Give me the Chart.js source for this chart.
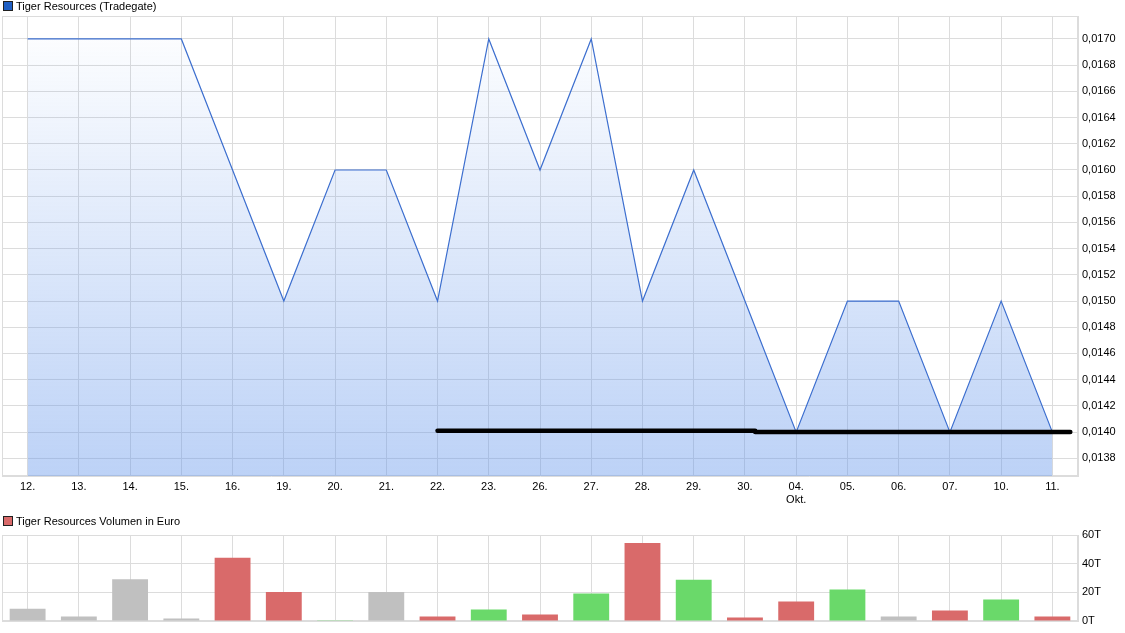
<!DOCTYPE html>
<html>
<head>
<meta charset="utf-8">
<script src="https://cdn.jsdelivr.net/npm/chart.js@4/dist/chart.umd.min.js"></script>
<style>
html, body { margin: 0; padding: 0; background: #ffffff; }
#priceBox { position: absolute; left: 0; top: 0; width: 1125px; height: 508px; }
#volBox { position: absolute; left: 0; top: 508px; width: 1125px; height: 125px; }
</style>
</head>
<body>
<div id="priceBox"><canvas id="priceChart"></canvas></div>
<div id="volBox"><canvas id="volChart"></canvas></div>
<script>
// trading days (Sept / Oct)
const days = ['12.', '13.', '14.', '15.', '16.', '19.', '20.', '21.', '22.', '23.', '26.',
   '27.', '28.', '29.', '30.', ['04.', 'Okt.'], '05.', '06.', '07.', '10.', '11.'];

// closing price in EUR
const prices = [0.0170, 0.0170, 0.0170, 0.0170, 0.0160, 0.0150, 0.0160, 0.0160, 0.0150, 0.0170, 0.0160,
   0.0170, 0.0150, 0.0160, 0.0150, 0.0140, 0.0150, 0.0150, 0.0140, 0.0150, 0.0140];

// volume in thousand euro, and day direction (u = up, d = down, n = unchanged)
const volumes = [8.6, 3.2, 29.1, 1.8, 44.1, 20.2, 0.5, 20.2, 3.2, 8.0, 4.5,
   19.1, 54.4, 28.8, 2.5, 13.6, 21.9, 3.2, 7.4, 15.0, 3.2];
const volDirection = ['n', 'n', 'n', 'n', 'd', 'd', 'u', 'n', 'd', 'u', 'd',
   'u', 'd', 'u', 'd', 'd', 'u', 'n', 'd', 'u', 'd'];

// support lines (x = day index)
const supportA = [{ x: 8, y: 0.01401 }, { x: 14.2, y: 0.01401 }];
const supportB = [{ x: 14.2, y: 0.01400 }, { x: 20.35, y: 0.01400 }];

const priceTicks = [0.0138, 0.0140, 0.0142, 0.0144, 0.0146, 0.0148, 0.0150, 0.0152, 0.0154,
   0.0156, 0.0158, 0.0160, 0.0162, 0.0164, 0.0166, 0.0168, 0.0170];
const volTicks = [0, 20, 40, 60];

const dirColors = { u: '#6ad96a', d: '#d96a6a', n: '#c0c0c0' };
const gridColor = '#dcdcdc';

Chart.defaults.font = { family: "'Liberation Sans', Arial, sans-serif", size: 11 };
Chart.defaults.color = '#000000';

// frame round the plot area + little square legend in the top left corner
const FramePlugin = {
   id: 'frame',
   beforeDatasetsDraw: (chart) => {
      const a = chart.chartArea;
      const ctx = chart.ctx;
      ctx.save();
      ctx.strokeStyle = gridColor;
      ctx.lineWidth = 1;
      ctx.strokeRect(Math.round(a.left) + 0.5, Math.round(a.top) + 0.5,
         Math.round(a.right - a.left) - 1, Math.round(a.bottom - a.top) - 1);
      ctx.restore();
   },
   afterDraw: (chart, args, opts) => {
      if (!opts.text) {
         return;
      }
      const ctx = chart.ctx;
      ctx.save();
      ctx.fillStyle = opts.color;
      ctx.fillRect(3.5, opts.y - 4.5, 9, 9);
      ctx.strokeStyle = '#202020';
      ctx.lineWidth = 1;
      ctx.strokeRect(3.5, opts.y - 4.5, 9, 9);
      ctx.fillStyle = '#000000';
      ctx.font = "11px 'Liberation Sans', Arial, sans-serif";
      ctx.textBaseline = 'middle';
      ctx.fillText(opts.text, 16, opts.y + 0.5);
      ctx.restore();
   }
};
Chart.register(FramePlugin);

const fmtPrice = (v) => v.toFixed(4).replace('.', ',');

new Chart(document.getElementById('priceChart'), {
   type: 'line',
   data: {
      labels: days,
      datasets: [{
         data: prices,
         order: 2,
         borderColor: '#3d6fcf',
         borderWidth: 1.2,
         pointRadius: 0,
         tension: 0,
         fill: 'start',
         backgroundColor: (ctx) => {
            const area = ctx.chart.chartArea;
            if (!area) {
               return 'rgba(100,150,235,0.3)';
            }
            const g = ctx.chart.ctx.createLinearGradient(0, area.top, 0, area.bottom);
            g.addColorStop(0, 'rgba(100,150,235,0.0)');
            g.addColorStop(1, 'rgba(100,150,235,0.43)');
            return g;
         }
      }, {
         data: supportA,
         order: 1,
         xAxisID: 'xs',
         borderColor: '#000000',
         borderWidth: 4.5,
         borderCapStyle: 'round',
         pointRadius: 0,
         fill: false
      }, {
         data: supportB,
         order: 1,
         xAxisID: 'xs',
         borderColor: '#000000',
         borderWidth: 4.5,
         borderCapStyle: 'round',
         pointRadius: 0,
         fill: false
      }]
   },
   options: {
      animation: false,
      responsive: true,
      maintainAspectRatio: false,
      events: [],
      layout: { padding: { left: 2, top: 16, right: 0, bottom: 0 } },
      plugins: {
         legend: { display: false },
         tooltip: { enabled: false },
         frame: { text: 'Tiger Resources (Tradegate)', color: '#1f5fc4', y: 6 }
      },
      scales: {
         x: {
            type: 'category',
            offset: true,
            grid: { color: gridColor, offset: false, drawTicks: false },
            border: { color: gridColor },
            ticks: { autoSkip: false, maxRotation: 0, padding: 4 },
            afterFit: (scale) => { scale.height = 32; }
         },
         xs: {
            type: 'linear',
            display: false,
            min: -0.5,
            max: 20.5
         },
         y: {
            position: 'right',
            min: 0.013665,
            max: 0.017175,
            grid: { color: gridColor, drawTicks: false },
            border: { color: gridColor },
            ticks: { padding: 4, callback: (v) => fmtPrice(v) },
            afterBuildTicks: (scale) => { scale.ticks = priceTicks.map((v) => ({ value: v })); },
            afterFit: (scale) => { scale.width = 47; }
         }
      }
   }
});

new Chart(document.getElementById('volChart'), {
   type: 'bar',
   data: {
      labels: days,
      datasets: [{
         data: volumes,
         backgroundColor: volDirection.map((d) => dirColors[d]),
         borderWidth: 0,
         barPercentage: 0.7,
         categoryPercentage: 1.0
      }]
   },
   options: {
      animation: false,
      responsive: true,
      maintainAspectRatio: false,
      events: [],
      layout: { padding: { left: 2, top: 27, right: 0, bottom: 12 } },
      plugins: {
         legend: { display: false },
         tooltip: { enabled: false },
         frame: { text: 'Tiger Resources Volumen in Euro', color: '#d96a6a', y: 13 }
      },
      scales: {
         x: {
            offset: true,
            grid: { color: gridColor, offset: false, drawTicks: false },
            border: { color: gridColor },
            ticks: { display: false },
            afterFit: (scale) => { scale.height = 0; }
         },
         y: {
            position: 'right',
            min: 0,
            max: 60,
            grid: { color: gridColor, drawTicks: false },
            border: { color: gridColor },
            ticks: { padding: 4, callback: (v) => v + 'T' },
            afterBuildTicks: (scale) => { scale.ticks = volTicks.map((v) => ({ value: v })); },
            afterFit: (scale) => { scale.width = 47; }
         }
      }
   }
});
</script>
</body>
</html>
